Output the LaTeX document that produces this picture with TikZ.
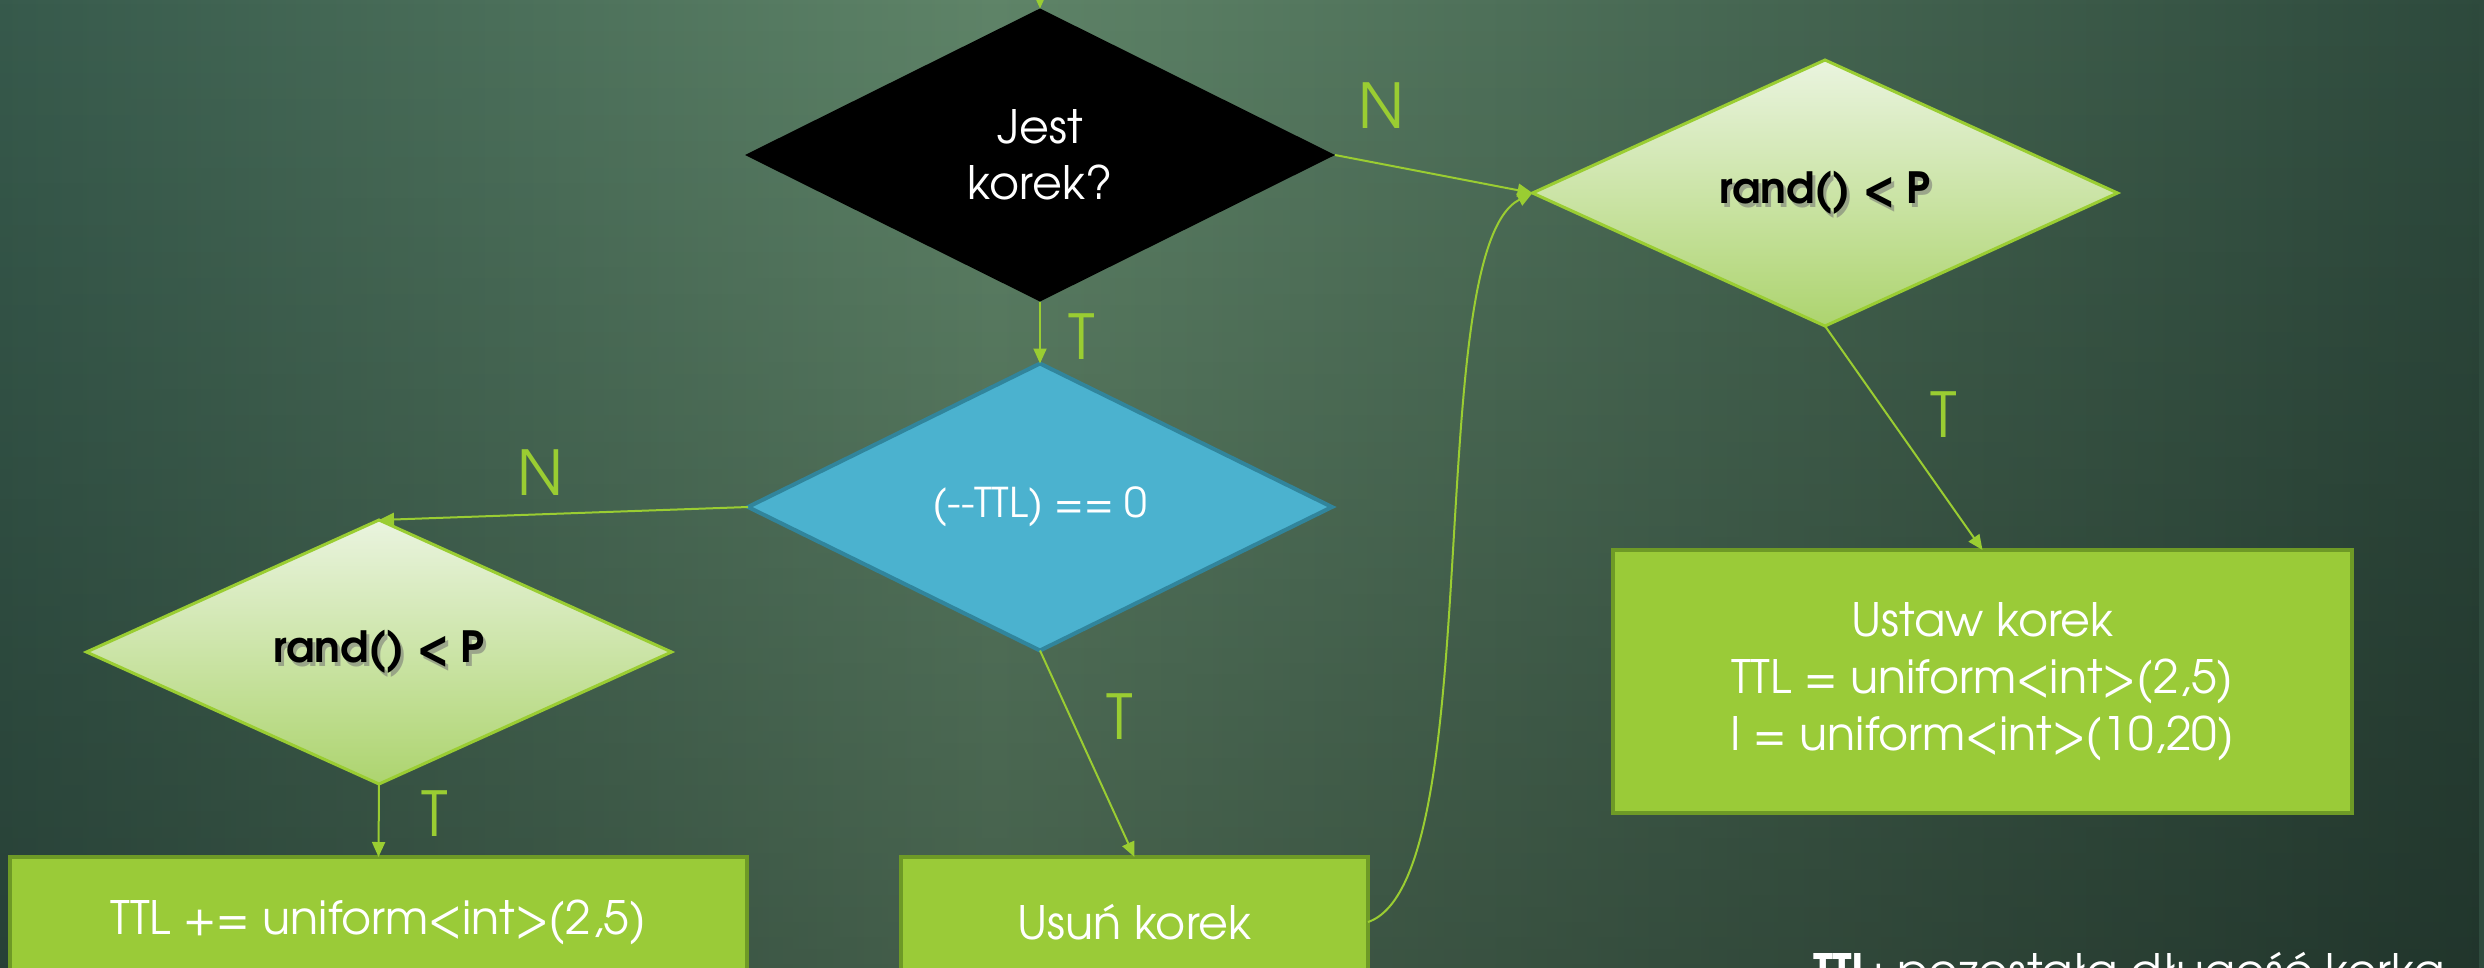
\documentclass[tikz,border=0pt]{standalone}
\usepackage{fontspec}
\newfontfamily\adv{texgyreadventor}[Extension=.otf, UprightFont=*-regular, BoldFont=*-bold]
\usetikzlibrary{shapes.geometric,arrows.meta,fadings}
\definecolor{bgL}{HTML}{375A4C}
\definecolor{bgM}{HTML}{5F8468}
\definecolor{bgR}{HTML}{2E4A3D}
\definecolor{lgreen}{HTML}{9ACD32}
\definecolor{boxg}{HTML}{9ACB38}
\definecolor{boxb}{HTML}{6E9A26}
\definecolor{tblue}{HTML}{4BB2CF}
\definecolor{tborder}{HTML}{31859C}
\definecolor{randTop}{HTML}{EAF4DF}
\definecolor{randBot}{HTML}{ADD46F}
\pgfdeclarehorizontalshading{bgsh}{100bp}{color(0bp)=(bgL); color(25bp)=(bgL); color(45bp)=(bgM); color(75bp)=(bgR); color(100bp)=(bgR)}
\tikzset{
  dmd/.style={shape=diamond, inner sep=0pt, outer sep=0pt},
  randdmd/.style={dmd, top color=randTop, bottom color=randBot, draw=lgreen, line width=3pt},
  randtxt/.style={inner sep=0pt, font=\adv\bfseries\fontsize{43}{50}\selectfont, text=black},
  randshadow/.style={randtxt, text=black!55, opacity=0.55},
  gbox/.style={rectangle, fill=boxg, draw=boxb, line width=4pt, text=white, inner sep=0pt, outer sep=0pt, font=\adv\fontsize{46}{57}\selectfont, align=center},
  conn/.style={draw=lgreen, line width=2pt, -{Triangle[length=15pt,width=13pt]}},
  lbl/.style={inner sep=0pt, text=lgreen, font=\adv\fontsize{62}{62}\selectfont}
}
\begin{document}
\begin{tikzpicture}[x=1pt,y=-1pt]
\clip (0,0) rectangle (2484,967);
\shade[shading=bgsh] (0,0) rectangle (2484,967);
\fill[black, opacity=0.28, path fading=north] (0,0) rectangle (2484,967);

% decisions
\node[dmd, fill=black, minimum width=590pt, minimum height=293pt, text=white, align=center, font=\adv\fontsize{46}{56}\selectfont] (jest) at (1040,155) {Jest\\korek?};
\node[dmd, fill=tblue, draw=tborder, line width=4pt, minimum width=584pt, minimum height=287pt, text=white, font=\adv\fontsize{41}{48}\selectfont] (ttl) at (1040,507) {(-{}-TTL) == 0};
\node[randdmd, minimum width=585pt, minimum height=264pt] (lr) at (379,652) {};
\node[randshadow] (lrs) at ([shift={(3,4)}]lr.center) {rand() < P};
\node[randtxt] (lrt) at (lr.center) {rand() < P};
\node[randdmd, minimum width=585pt, minimum height=266pt] (rr) at (1825,193) {};
\node[randshadow] (rrs) at ([shift={(3,4)}]rr.center) {rand() < P};
\node[randtxt] (rrt) at (rr.center) {rand() < P};

% actions
\node[gbox, minimum width=737pt, minimum height=130pt] (b1) at (378.5,922) {TTL += uniform<int>(2,5)};
\node[gbox, minimum width=467pt, minimum height=130pt] (usun) at (1134.5,922) {Usuń korek};
\node[gbox, minimum width=739pt, minimum height=263pt] (ustaw) at (1982.5,681.5) {Ustaw korek\\TTL = uniform<int>(2,5)\\I = uniform<int>(10,20)};

% connectors
\coordinate (topin) at (1040,-30);
\draw[conn] (topin) -- (jest.north);
\draw[conn] (jest.south) -- (ttl.north);
\draw[conn] (jest.east) -- (rr.west);
\draw[conn] (ttl.west) -- (lr.north);
\draw[conn] (lr.south) -- (b1.north);
\draw[conn] (ttl.south) -- (usun.north);
\draw[conn] (rr.south) -- (ustaw.north);
\draw[conn] (usun.east) .. controls (1490,880) and (1420,250) .. (rr.west);

% labels
\node[lbl] (n1) at (1381,106) {N};
\node[lbl] (t1) at (1082,337) {T};
\node[lbl] (n2) at (540,473) {N};
\node[lbl] (t2) at (435,814) {T};
\node[lbl] (t3) at (1120,717) {T};
\node[lbl] (t4) at (1944,415) {T};

% note (cut off at the bottom, as in the reference)
\node[anchor=base west, inner sep=0pt, text=white, font=\adv\fontsize{46}{56}\selectfont] (note) at (1813,987) {\textbf{TTL}: pozostała długość korka};
\end{tikzpicture}
\end{document}
